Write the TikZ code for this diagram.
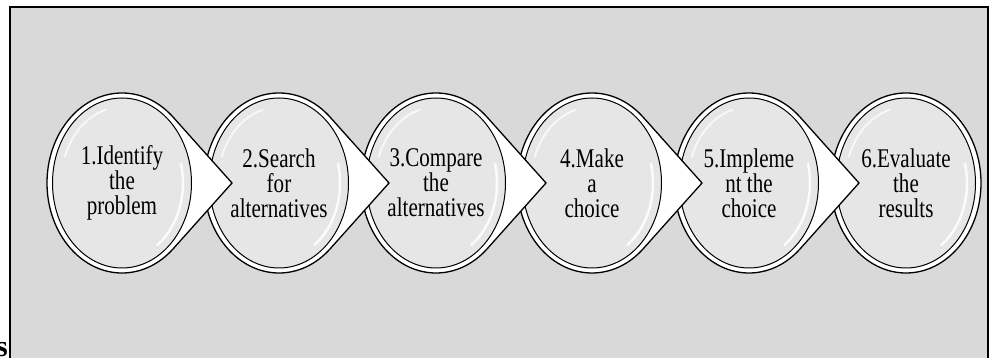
\documentclass[tikz,border=0pt]{standalone}
\usepackage{fontspec}
\setmainfont{Liberation Serif}
\newfontfamily\stepfont[FakeStretch=0.78]{Liberation Serif}
\usetikzlibrary{shapes.geometric}
\definecolor{bgray}{HTML}{D9D9D9}
\definecolor{lgray}{HTML}{E6E6E6}
\tikzset{
  drop/.style={draw=black, fill=white, line width=1.3pt, line join=miter},
  stepnode/.style={ellipse, draw=black, fill=lgray, line width=1pt,
    minimum width=139, minimum height=170, inner sep=0pt, align=center,
    font=\stepfont\fontsize{27}{25}\selectfont,
    path picture={
      \draw[white, line width=2.5pt, opacity=.85]
        ([shift={(-55:61 and 76)}]path picture bounding box.center)
        arc[start angle=-55, end angle=15, x radius=61, y radius=76];
      \draw[white, line width=2pt, opacity=.7]
        ([shift={(105:61 and 76)}]path picture bounding box.center)
        arc[start angle=105, end angle=160, x radius=61, y radius=76];
    }}
}
\begin{document}
\begin{tikzpicture}[x=1pt,y=1pt]
\useasboundingbox (0,0) rectangle (994,358);
\clip (0,0) rectangle (994,358);
% Frame
\draw[fill=bgray, line width=2pt] (9.5,-20) rectangle (988,350.5);
% Centres of the steps
\coordinate (c1) at (122,175);
\coordinate (c2) at (279,175);
\coordinate (c3) at (436,175);
\coordinate (c4) at (592,175);
\coordinate (c5) at (749,175);
\coordinate (c6) at (906,175);
% Steps, last one first
\draw[drop] (c6) ellipse [x radius=75, y radius=90];
\node[stepnode] at (c6) (s6) {6.Evaluate\\the\\results};
\draw[drop] ([shift={(47:75 and 90)}]c5) arc[start angle=47, end angle=313, x radius=75, y radius=90] -- ([xshift=110]c5) -- cycle;
\node[stepnode] at (c5) (s5) {5.Impleme\\nt the\\choice};
\draw[drop] ([shift={(47:75 and 90)}]c4) arc[start angle=47, end angle=313, x radius=75, y radius=90] -- ([xshift=110]c4) -- cycle;
\node[stepnode] at (c4) (s4) {4.Make\\a\\choice};
\draw[drop] ([shift={(47:75 and 90)}]c3) arc[start angle=47, end angle=313, x radius=75, y radius=90] -- ([xshift=110]c3) -- cycle;
\node[stepnode] at (c3) (s3) {3.Compare\\the\\alternatives};
\draw[drop] ([shift={(47:75 and 90)}]c2) arc[start angle=47, end angle=313, x radius=75, y radius=90] -- ([xshift=110]c2) -- cycle;
\node[stepnode] at (c2) (s2) {2.Search\\for\\alternatives};
\draw[drop] ([shift={(47:75 and 90)}]c1) arc[start angle=47, end angle=313, x radius=75, y radius=90] -- ([xshift=110]c1) -- cycle;
\node[stepnode] at (c1) (s1) {1.Identify\\the\\problem};
% Cut letter at the lower left
\node[font=\fontsize{30}{30}\selectfont\bfseries, anchor=base east, inner sep=0pt] at (8,1) (cut) {s};
\end{tikzpicture}
\end{document}
